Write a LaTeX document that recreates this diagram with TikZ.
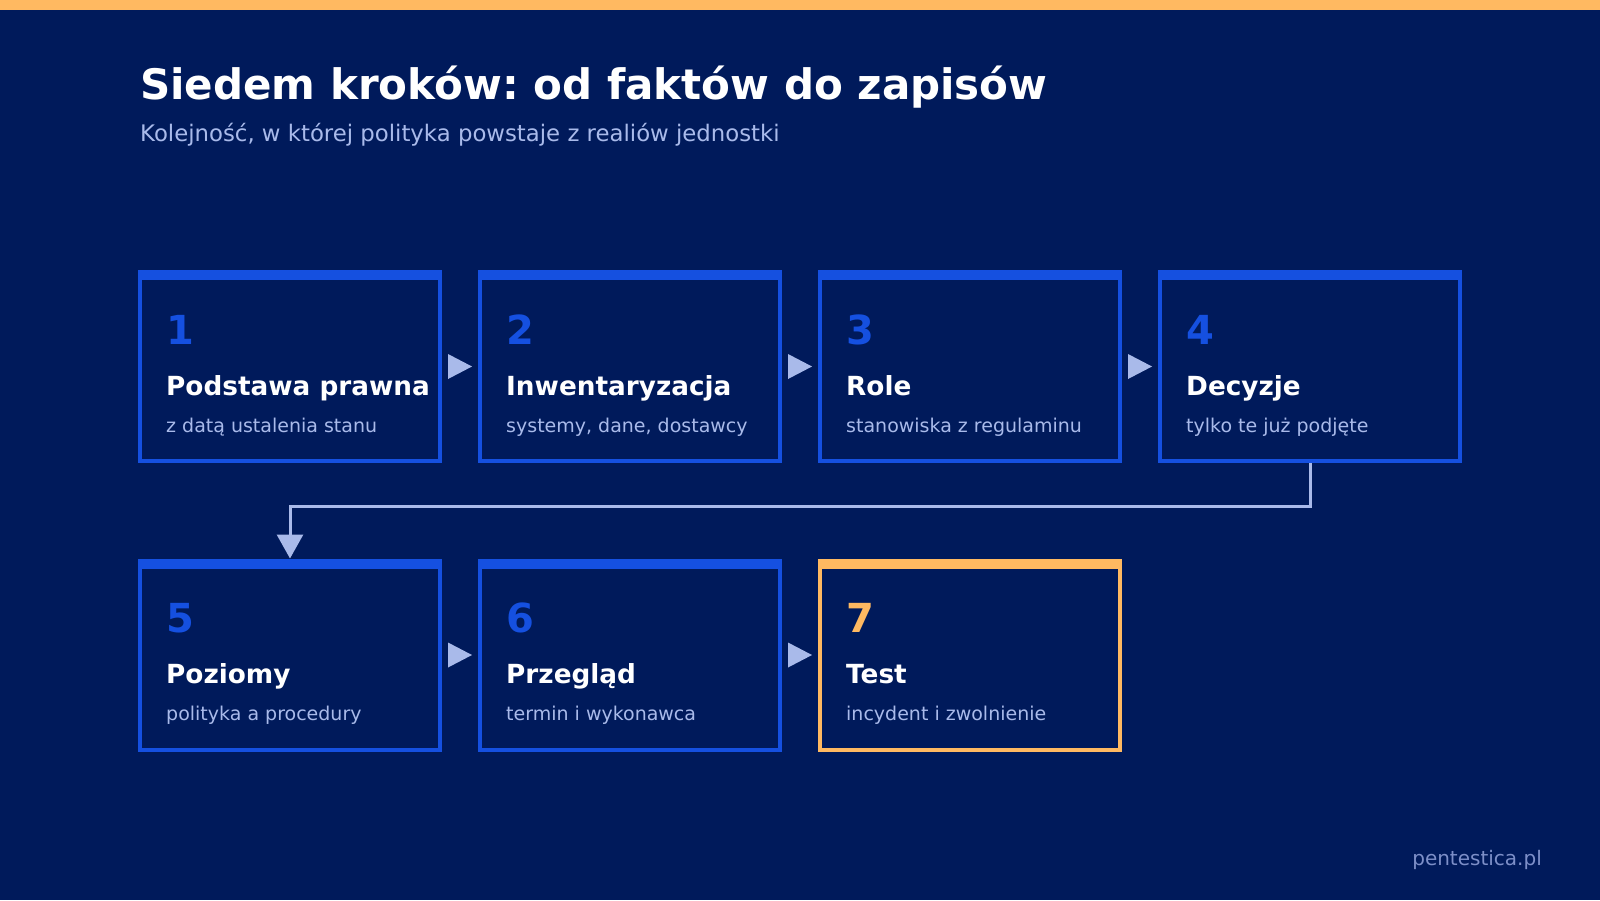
\documentclass[tikz,border=0pt]{standalone}
\usepackage{fontspec}
\setmainfont{DejaVu Sans}
\usetikzlibrary{calc,arrows.meta}
\frenchspacing

\definecolor{bgnavy}{HTML}{001A5B}
\definecolor{stepblue}{HTML}{1550E0}
\definecolor{accent}{HTML}{FFB961}
\definecolor{pale}{HTML}{A9BAEA}
\definecolor{muted}{HTML}{7D8FC8}

\tikzset{
  stepbox/.style={draw=stepblue, fill=bgnavy, line width=4pt, minimum width=300pt, minimum height=189pt, inner sep=0pt},
  stepnum/.style={anchor=base west, inner sep=0pt, text=stepblue, font=\fontsize{40}{40}\selectfont\bfseries},
  steptitle/.style={anchor=base west, inner sep=0pt, text=white, font=\fontsize{26.3}{26.3}\selectfont\bfseries},
  stepnote/.style={anchor=base west, inner sep=0pt, text=pale, font=\fontsize{19}{19}\selectfont},
  tri/.style={fill=pale},
  link/.style={draw=pale, line width=3pt, -{Triangle[length=24pt,width=26pt]}},
}

\begin{document}
\begin{tikzpicture}[x=1pt,y=-1pt]
\useasboundingbox (0,0) rectangle (1600,900);
\fill[bgnavy] (0,0) rectangle (1600,900);
\fill[accent] (0,0) rectangle (1600,10);

% Title
\node (title) [anchor=base west, inner sep=0pt, text=white, font=\fontsize{42}{42}\selectfont\bfseries] at (140,99) {Siedem kroków: od faktów do zapisów};
\node (subtitle) [anchor=base west, inner sep=0pt, text=pale, font=\fontsize{22.8}{22.8}\selectfont] at (140,141) {Kolejność, w której polityka powstaje z realiów jednostki};

% Steps
\foreach \n/\cx/\cy/\c/\t/\s in {
  {1/290/366.5/stepblue/Podstawa prawna/z datą ustalenia stanu},
  {2/630/366.5/stepblue/Inwentaryzacja/systemy, dane, dostawcy},
  {3/970/366.5/stepblue/Role/stanowiska z regulaminu},
  {4/1310/366.5/stepblue/Decyzje/tylko te już podjęte},
  {5/290/655/stepblue/Poziomy/polityka a procedury},
  {6/630/655/stepblue/Przegląd/termin i wykonawca},
  {7/970/655/accent/Test/incydent i zwolnienie}}
{
  \node (b\n) [stepbox, draw=\c] at (\cx,\cy) {};
  \fill[\c] (b\n.north west) rectangle ++(304,10);
  \node (n\n) [stepnum, text=\c] at ($(b\n.north west)+(28,74)$) {\n};
  \node (t\n) [steptitle] at ($(b\n.north west)+(28,125)$) {\t};
  \node (s\n) [stepnote] at ($(b\n.north west)+(28,162)$) {\s};
}

% Arrows
\foreach \a/\b in {b1/b2,b2/b3,b3/b4,b5/b6,b6/b7}
  \fill[tri] ($(\a.east)!0.5!(\b.west)$) ++(-12,-12.5) -- ++(24,12.5) -- ++(-24,12.5) -- cycle;
\draw[link] (b4.south) -- ++(0,43) -| (b5.north);

% Footer
\node (footer) [anchor=base east, inner sep=0pt, text=muted, font=\fontsize{20}{20}\selectfont] at (1542,865) {pentestica.pl};

\end{tikzpicture}
\end{document}
